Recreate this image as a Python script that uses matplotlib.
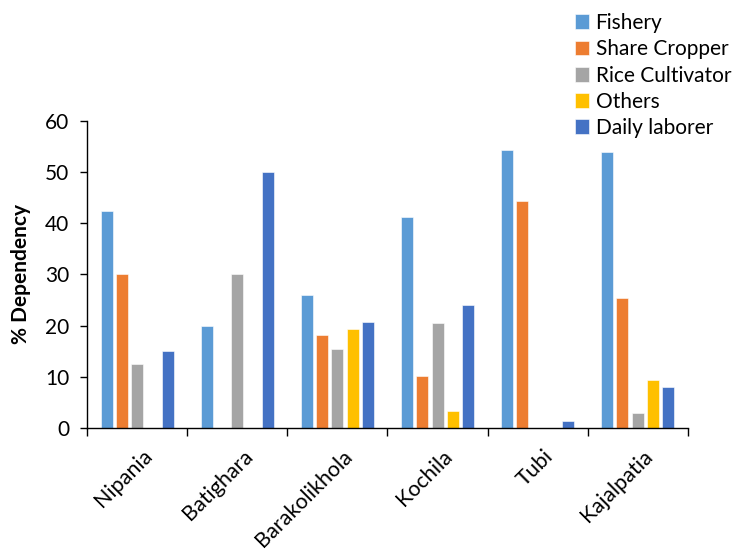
import matplotlib.pyplot as plt
import numpy as np

plt.rcParams['font.family'] = ['Lato', 'DejaVu Sans']

villages = ['Nipania', 'Batighara', 'Barakolikhola', 'Kochila', 'Tubi', 'Kajalpatia']
series = ['Fishery', 'Share Cropper', 'Rice Cultivator', 'Others', 'Daily laborer']
colors = ['#5B9BD5', '#ED7D31', '#A5A5A5', '#FFC000', '#4472C4']

fishery = [42.5, 20, 25.9, 41.2, 54.3, 53.9]
share_cropper = [30, 0, 18.1, 10.2, 44.3, 25.3]
rice = [12.5, 30, 15.5, 20.6, 0, 3.0]
others = [0, 0, 19.4, 3.3, 0, 9.4]
daily = [15, 50, 20.7, 24.1, 1.3, 7.9]

values = [fishery, share_cropper, rice, others, daily]

fig = plt.figure(figsize=(7.38, 5.5), dpi=100)
ax = fig.add_axes([0.118, 0.222, 0.814, 0.558])

x = np.arange(len(villages))
step = 0.153
width = 0.12
for i, (name, vals) in enumerate(zip(series, values)):
    ax.bar(x + (i - 2) * step, vals, width, color=colors[i], label=name,
           edgecolor='white', linewidth=0.4)

ax.set_xlim(-0.5, len(villages) - 0.5)
ax.set_ylim(0, 60)
ax.set_yticks(range(0, 61, 10))
ax.tick_params(axis='y', labelsize=15, length=5, width=1, pad=8)

# group separators as ticks, labels sit on the group centres
ax.set_xticks(np.arange(-0.5, len(villages)), labels=[])
ax.set_xticks(x + 0.05, minor=True)
ax.set_xticklabels(villages, minor=True, rotation=45, ha='right',
                   rotation_mode='anchor', fontsize=15.5)
ax.tick_params(axis='x', which='major', length=6, width=1)
ax.tick_params(axis='x', which='minor', length=0, pad=13)

ax.spines['top'].set_visible(False)
ax.spines['right'].set_visible(False)
ax.spines['left'].set_linewidth(1)
ax.spines['bottom'].set_linewidth(1)

ax.set_ylabel('% Dependency', fontsize=15, fontweight='bold', labelpad=10)

fig.legend(loc='upper left', bbox_to_anchor=(0.776, 0.98), frameon=False,
           fontsize=15, handlelength=0.7, handleheight=0.7, handletextpad=0.3,
           labelspacing=0.3, borderaxespad=0, borderpad=0.1)

fig.savefig('out.png', dpi=100)
